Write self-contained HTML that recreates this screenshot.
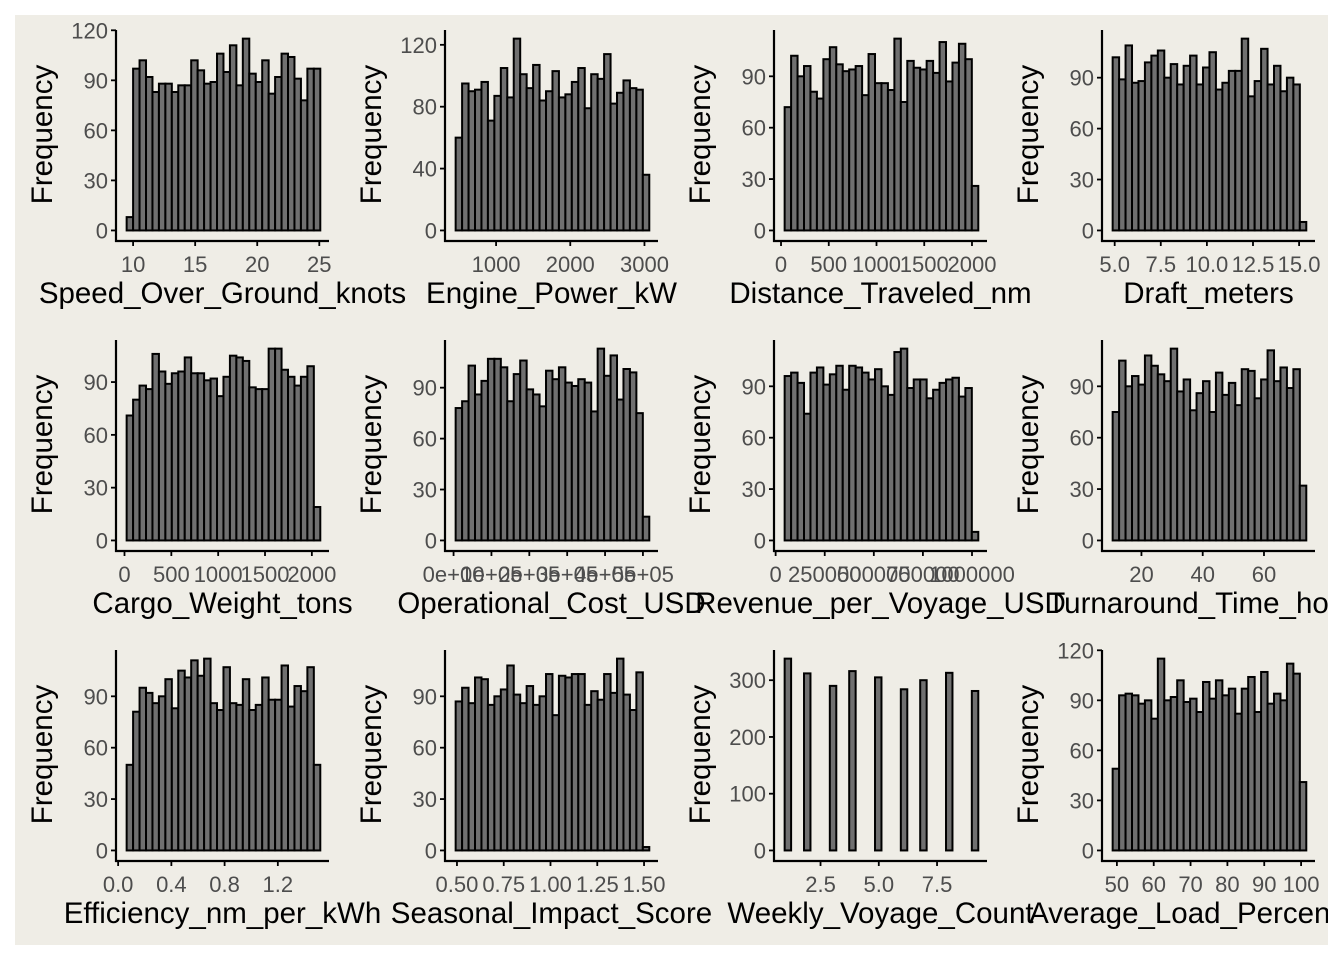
<!DOCTYPE html>
<html><head><meta charset="utf-8"><style>
html,body{margin:0;padding:0;background:#fff;}
svg{display:block;font-family:"Liberation Sans",Arial,sans-serif;}
</style></head><body>
<svg id="chart" width="1344" height="960" viewBox="0 0 1344 960" xmlns="http://www.w3.org/2000/svg">
<defs><clipPath id="clipArea"><rect x="15" y="15" width="1313" height="930"/></clipPath></defs>
<rect x="15" y="15" width="1313" height="930" fill="#EFEDE6"/>
<g id="panels" clip-path="url(#clipArea)"></g>
</svg>
<script>
const titles = ["Speed_Over_Ground_knots","Engine_Power_kW","Distance_Traveled_nm","Draft_meters","Cargo_Weight_tons","Operational_Cost_USD","Revenue_per_Voyage_USD","Turnaround_Time_hours","Efficiency_nm_per_kWh","Seasonal_Impact_Score","Weekly_Voyage_Count","Average_Load_Percentage"];
const binStarts = [9.48,455,38,4.89,23,5500,45900,10.6,0.064,0.493,0.96,48.85];
const binWidths = [0.52,87,67.6,0.35,68.9,17043,32870,2.107,0.0485,0.0345,0.277,1.752];
const countsSpeed = [8,97,102,92,83,88,88,83,87,87,102,96,88,89,106,95,111,87,115,94,89,102,82,92,106,104,91,78,97,97];
const countsEngine = [60,95,90,91,96,71,87,105,86,124,101,92,107,84,90,103,86,88,96,105,79,101,98,114,82,89,97,92,91,36];
const countsDistance = [72,102,90,96,81,77,100,107,97,93,94,96,79,103,86,86,82,112,75,99,95,94,99,92,110,87,98,109,100,26];
const countsDraft = [102,89,109,87,88,99,103,106,90,98,86,97,103,86,96,105,83,87,94,94,113,79,88,107,86,97,82,90,86,5];
const countsCargo = [71,80,88,86,106,96,89,95,96,104,95,95,91,92,82,93,105,104,102,87,86,86,109,109,97,93,88,93,99,19];
const countsCost = [78,82,103,86,94,107,107,102,82,98,106,89,86,79,100,95,102,93,91,95,93,76,113,97,109,83,101,99,75,14];
const countsRevenue = [96,98,92,74,98,101,91,97,102,88,102,101,98,94,100,90,85,110,112,89,94,94,83,88,92,94,95,84,89,5];
const countsTurnaround = [75,105,90,96,91,108,102,97,93,112,87,94,76,86,93,75,98,85,92,79,100,99,83,94,111,93,101,89,100,32];
const countsEfficiency = [50,81,95,92,86,90,100,83,105,101,111,102,112,86,82,107,86,85,100,82,85,101,88,88,108,84,96,93,107,50];
const countsSeasonal = [87,95,86,101,100,85,90,94,108,91,86,96,85,90,103,79,102,101,103,103,85,93,88,103,92,112,91,82,104,2];
const countsWeekly = [338,0,0,312,0,0,0,290,0,0,316,0,0,0,305,0,0,0,284,0,0,300,0,0,0,313,0,0,0,281];
const countsLoad = [49,93,94,93,88,90,79,115,90,92,102,89,91,83,101,91,102,93,97,82,97,104,83,107,88,94,90,112,106,41];
const allCounts = [countsSpeed,countsEngine,countsDistance,countsDraft,countsCargo,countsCost,countsRevenue,countsTurnaround,countsEfficiency,countsSeasonal,countsWeekly,countsLoad];
const yTicks = [[0,30,60,90,120],[0,40,80,120],[0,30,60,90],[0,30,60,90],[0,30,60,90],[0,30,60,90],[0,30,60,90],[0,30,60,90],[0,30,60,90],[0,30,60,90],[0,100,200,300],[0,30,60,90,120]];
const xTickValues = [[10,15,20,25],[1000,2000,3000],[0,500,1000,1500,2000],[5,7.5,10,12.5,15],[0,500,1000,1500,2000],[0,100000,200000,300000,400000,500000],[0,250000,500000,750000,1000000],[20,40,60],[0,0.4,0.8,1.2],[0.5,0.75,1,1.25,1.5],[2.5,5,7.5],[50,60,70,80,90,100]];
const xTickLabels = [["10","15","20","25"],["1000","2000","3000"],["0","500","1000","1500","2000"],["5.0","7.5","10.0","12.5","15.0"],["0","500","1000","1500","2000"],["0e+00","1e+05","2e+05","3e+05","4e+05","5e+05"],["0","250000","500000","750000","1000000"],["20","40","60"],["0.0","0.4","0.8","1.2"],["0.50","0.75","1.00","1.25","1.50"],["2.5","5.0","7.5"],["50","60","70","80","90","100"]];

const NS = "http://www.w3.org/2000/svg";
const root = document.getElementById('panels');
const colX = [116,445,774,1102];
const rowTop = [30,340,650];
const PW = 213, PH = 211;
function mk(tag, attrs, parent){const e=document.createElementNS(NS,tag);for(const k in attrs)e.setAttribute(k,attrs[k]);parent.appendChild(e);return e;}

for(let i=0;i<12;i++){
  const c=i%4, r=Math.floor(i/4);
  const ax=colX[c], top=rowTop[r], bottom=top+PH;
  const counts=allCounts[i];
  const lo=binStarts[i], hi=lo+binWidths[i]*counts.length;
  const ymax=Math.max(...counts);
  const xs=v=>ax+PW*(0.05+(v-lo)/(hi-lo)/1.1);
  const ys=v=>bottom-PH*(0.05+v/ymax/1.1);
  const g=mk('g',{},root);
  
  
  counts.forEach((v,j)=>{
    const x0=xs(lo+j*binWidths[i]), x1=xs(lo+(j+1)*binWidths[i]);
    const b=mk('rect',{x:x0,y:ys(v),width:x1-x0,height:ys(0)-ys(v),fill:'#707070',stroke:'#000','stroke-width':2},g);
    
    
  });
  const yl=mk('line',{x1:ax,y1:top,x2:ax,y2:bottom+1,stroke:'#000','stroke-width':2.2},g);
  
  
  const xl=mk('line',{x1:ax-1,y1:bottom,x2:ax+PW,y2:bottom,stroke:'#000','stroke-width':2.2},g);
  
  
  yTicks[i].forEach(t=>{
    const y=ys(t);
    mk('line',{x1:ax-5,y1:y,x2:ax,y2:y,stroke:'#000','stroke-width':1.8},g);
    const tx=mk('text',{x:ax-8,y:y+8,'text-anchor':'end','font-size':22,fill:'#4d4d4d'},g);
    tx.textContent=t;
    
    
  });
  xTickValues[i].forEach((t,k)=>{
    const x=xs(t);
    mk('line',{x1:x,y1:bottom,x2:x,y2:bottom+5,stroke:'#000','stroke-width':1.8},g);
    const tx=mk('text',{x:x,y:bottom+31,'text-anchor':'middle','font-size':22,fill:'#4d4d4d'},g);
    tx.textContent=xTickLabels[i][k];
    
    
  });
  const xt=mk('text',{x:ax+PW/2,y:bottom+62,'text-anchor':'middle','font-size':29.5,fill:'#000'},g);
  xt.textContent=titles[i];
  
  
  const cy=top+PH/2-1;
  const yt=mk('text',{x:ax-64,y:cy,'text-anchor':'middle','font-size':29.5,fill:'#000',transform:`rotate(-90 ${ax-64} ${cy})`},g);
  yt.textContent='Frequency';
  
  
}
</script>
</body></html>
